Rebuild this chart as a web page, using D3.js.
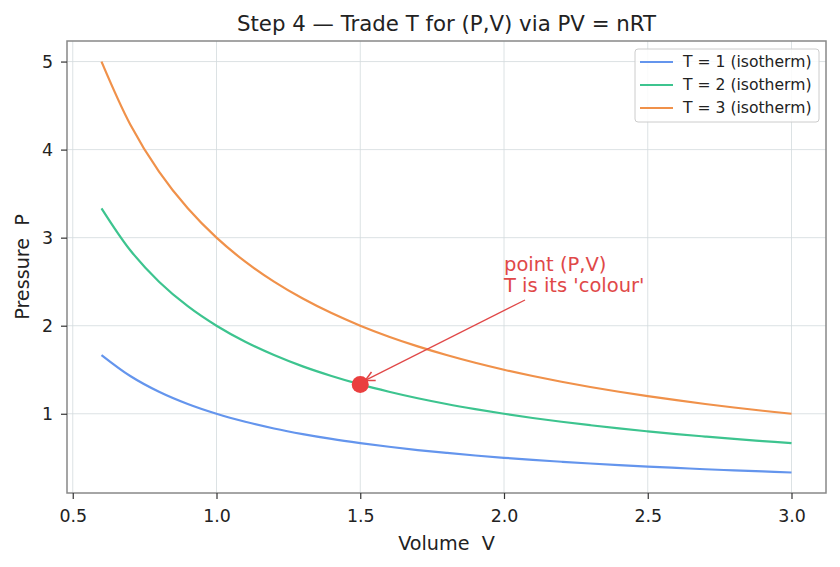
<!DOCTYPE html>
<html>
<head>
<meta charset="utf-8">
<script src="https://cdn.jsdelivr.net/npm/d3@7"></script>
<style>
  body { margin: 0; background: #fff; }
  svg text { font-family: "DejaVu Sans", sans-serif; }
</style>
</head>
<body>
<div class="chart"></div>
<script>
// volumes sampled along each isotherm
const volumes = [0.6, 0.7, 0.8, 0.9, 1.0, 1.1, 1.2, 1.3, 1.4, 1.5, 1.6, 1.7, 1.8,
                 1.9, 2.0, 2.1, 2.2, 2.3, 2.4, 2.5, 2.6, 2.7, 2.8, 2.9, 3.0];
const pressT1 = [1.667, 1.429, 1.25, 1.111, 1.0, 0.909, 0.833, 0.769, 0.714, 0.667, 0.625, 0.588, 0.556,
                 0.526, 0.5, 0.476, 0.455, 0.435, 0.417, 0.4, 0.385, 0.370, 0.357, 0.345, 0.333];
const pressT2 = [3.333, 2.857, 2.5, 2.222, 2.0, 1.818, 1.667, 1.538, 1.429, 1.333, 1.25, 1.176, 1.111,
                 1.053, 1.0, 0.952, 0.909, 0.870, 0.833, 0.8, 0.769, 0.741, 0.714, 0.690, 0.667];
const pressT3 = [5.0, 4.286, 3.75, 3.333, 3.0, 2.727, 2.5, 2.308, 2.143, 2.0, 1.875, 1.765, 1.667,
                 1.579, 1.5, 1.429, 1.364, 1.304, 1.25, 1.2, 1.154, 1.111, 1.071, 1.034, 1.0];
const seriesNames = ['T = 1 (isotherm)', 'T = 2 (isotherm)', 'T = 3 (isotherm)'];
const xTicks = [0.5, 1.0, 1.5, 2.0, 2.5, 3.0];
const yTicks = [1, 2, 3, 4, 5];
const markedPoint = {v: 1.5, p: 1.333};
const annotText = ['point (P,V)', "T is its 'colour'"];
const annotPos = {v: 2.0, p: 2.4};

const colors = ['#6495ed', '#3dc48f', '#f0914a'];
const series = [pressT1, pressT2, pressT3].map((ps, i) => ({
    name: seriesNames[i],
    color: colors[i],
    values: volumes.map((v, j) => ({v: v, p: ps[j]}))
}));

const svg_width = 840, svg_height = 567;
const margin = {top: 41, right: 14, bottom: 74, left: 67};
const w = svg_width - margin.left - margin.right;
const h = svg_height - margin.top - margin.bottom;

const svg = d3.select('.chart').append('svg')
    .attr('width', svg_width).attr('height', svg_height);
const g = svg.append('g').attr('transform', `translate(${margin.left},${margin.top})`);

const xScale = d3.scaleLinear().domain([0.48, 3.12]).range([0, w]);
const yScale = d3.scaleLinear().domain([0.1, 5.2335]).range([h, 0]);

// grid
g.append('g').selectAll('line').data(xTicks).join('line')
    .attr('x1', d => xScale(d)).attr('x2', d => xScale(d))
    .attr('y1', 0).attr('y2', h)
    .style('stroke', '#d3dadd').style('stroke-width', 0.8);
g.append('g').selectAll('line').data(yTicks).join('line')
    .attr('y1', d => yScale(d)).attr('y2', d => yScale(d))
    .attr('x1', 0).attr('x2', w)
    .style('stroke', '#d3dadd').style('stroke-width', 0.8);

const lineGen = d3.line().x(d => xScale(d.v)).y(d => yScale(d.p)).curve(d3.curveCatmullRom);
g.selectAll('.iso').data(series).join('path')
    .attr('class', 'iso')
    .attr('d', d => lineGen(d.values))
    .style('fill', 'none').style('stroke', d => d.color).style('stroke-width', 2.2);

// frame
g.append('rect').attr('width', w).attr('height', h)
    .style('fill', 'none').style('stroke', '#888').style('stroke-width', 1.5);

// axes
const xAxis = g.append('g').attr('transform', `translate(0,${h})`)
    .call(d3.axisBottom(xScale).tickValues(xTicks).tickFormat(d3.format('.1f')).tickSize(6).tickPadding(11));
const yAxis = g.append('g')
    .call(d3.axisLeft(yScale).tickValues(yTicks).tickFormat(d3.format('d')).tickSize(6).tickPadding(8));
[xAxis, yAxis].forEach(a => {
    a.select('.domain').remove();
    a.selectAll('line').style('stroke', '#333').style('stroke-width', 1.2);
    a.selectAll('text').style('font-size', '17.4px').style('fill', '#222')
        .style('font-family', '"DejaVu Sans", sans-serif');
});

// marked point and annotation
const annColor = '#e04848';
svg.append('defs').append('marker')
    .attr('id', 'arr').attr('viewBox', '0 0 10 10').attr('refX', 9).attr('refY', 5)
    .attr('markerWidth', 9).attr('markerHeight', 9).attr('orient', 'auto')
    .append('path').attr('d', 'M1,1 L9,5 L1,9')
    .style('fill', 'none').style('stroke', annColor).style('stroke-width', 1.3);

const ax = xScale(annotPos.v), ay = yScale(annotPos.p);
const px = xScale(markedPoint.v), py = yScale(markedPoint.p);
g.append('line')
    .attr('x1', ax + 21).attr('y1', ay + 9.5)
    .attr('x2', px + 5).attr('y2', py - 4)
    .attr('marker-end', 'url(#arr)')
    .style('stroke', annColor).style('stroke-width', 1.3);

g.append('circle').attr('cx', px).attr('cy', py).attr('r', 8.5)
    .style('fill', '#ea3f3f');

const annot = g.append('text').attr('x', ax).attr('y', ay)
    .style('fill', annColor).style('font-size', '19.5px');
annot.append('tspan').attr('x', ax).attr('y', ay - 19.5).text(annotText[0]);
annot.append('tspan').attr('x', ax).attr('y', ay + 1.5).text(annotText[1]);

// legend
const lg = g.append('g').attr('transform', `translate(${w - 191},8)`);
lg.append('rect').attr('width', 184).attr('height', 73).attr('rx', 3)
    .style('fill', 'rgba(255,255,255,0.85)').style('stroke', '#ccc').style('stroke-width', 1);
lg.selectAll('.li').data(series).join('g')
    .attr('class', 'li')
    .attr('transform', (d, i) => `translate(0,${13 + i * 23})`)
    .each(function(d) {
        const it = d3.select(this);
        it.append('line').attr('x1', 5).attr('x2', 38).attr('y1', 0).attr('y2', 0)
            .style('stroke', d.color).style('stroke-width', 2.2);
        it.append('text').attr('x', 48).attr('y', 0).attr('dy', '0.35em')
            .style('font-size', '15.6px').style('fill', '#222').text(d.name);
    });

// titles
svg.append('text').attr('x', margin.left + w / 2).attr('y', 31)
    .attr('text-anchor', 'middle').style('font-size', '21.3px').style('fill', '#222')
    .text('Step 4 \u2014 Trade T for (P,V) via PV = nRT');
svg.append('text').attr('x', margin.left + w / 2).attr('y', 550)
    .attr('text-anchor', 'middle').style('font-size', '19.2px').style('fill', '#222')
    .style('white-space', 'pre').text('Volume  V');
svg.append('text').attr('transform', `translate(29,${margin.top + h / 2}) rotate(-90)`)
    .attr('text-anchor', 'middle').style('font-size', '19.2px').style('fill', '#222')
    .style('white-space', 'pre').text('Pressure  P');
</script>
</body>
</html>
